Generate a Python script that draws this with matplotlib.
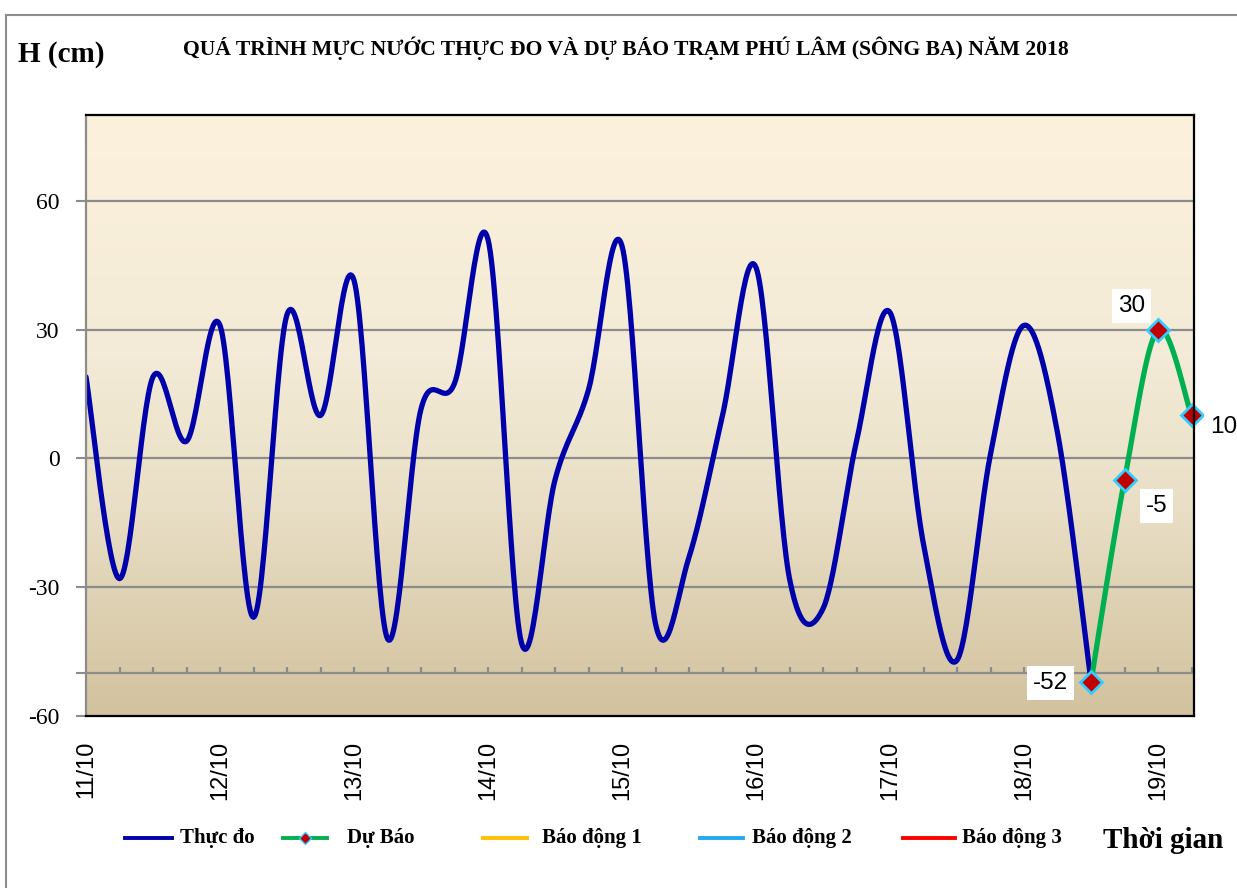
import numpy as np
import matplotlib
matplotlib.use("Agg")
import matplotlib.pyplot as plt
from matplotlib.lines import Line2D
from matplotlib.colors import LinearSegmentedColormap

# ---------------- data ----------------
tick_labels = ["11/10", "12/10", "13/10", "14/10", "15/10", "16/10", "17/10", "18/10", "19/10"]
observed = [19, -28, 19, 4, 31, -37, 33.5, 10, 41.5, -42, 11.5, 17.5, 51, -43, -5, 16, 49.5,
            -38.5, -23, 10, 44.5, -28, -35, 4, 34, -20, -47, 1, 31, 6, -52]
forecast = [-52, -5, 30, 10]
forecast_start = 30
forecast_labels = ["-52", "-5", "30", "10"]
title = "QUÁ TRÌNH MỰC NƯỚC THỰC ĐO VÀ DỰ BÁO TRẠM PHÚ LÂM (SÔNG BA) NĂM 2018"
legend_names = ["Thực đo", "Dự Báo", "Báo động 1", "Báo động 2", "Báo động 3"]

W, H = 1237, 888
fig = plt.figure(figsize=(W / 100, H / 100), dpi=100)
fig.patch.set_facecolor("white")

def fx(px):
    return px / W

def fy(py):
    return 1 - py / H

# outer border
fig.add_artist(Line2D([fx(6), fx(1237)], [fy(15), fy(15)], color="#8c8c8c", lw=1.5))
fig.add_artist(Line2D([fx(6), fx(6)], [fy(15), fy(888)], color="#8c8c8c", lw=1.5))

ax = fig.add_axes([fx(86), fy(716), fx(1194) - fx(86), fy(115) - fy(716)])
n_total = forecast_start + len(forecast)
xmax = (1194 - 86) / 33.5
ymin, ymax = -60, 80
ax.set_xlim(0, xmax)
ax.set_ylim(ymin, ymax)

# gradient background
cmap = LinearSegmentedColormap.from_list(
    "bg", [(0.0, "#D2C29E"), (0.35, "#E9DFC6"), (0.6, "#F3EBD7"), (1.0, "#FCF1DC")])
grad = np.linspace(0, 1, 256).reshape(-1, 1)
ax.imshow(grad, extent=[0, xmax, ymin, ymax], aspect="auto", origin="lower",
          cmap=cmap, zorder=0)

# gridlines
for g in [-30, 0, 30, 60]:
    ax.axhline(g, color="#8c8c8c", lw=1.6, zorder=1)
# category axis crossing at -50
ax.axhline(-50, color="#8c8c8c", lw=1.6, zorder=1)
ax.vlines(np.arange(1, n_total), -50, -48.6, color="#8c8c8c", lw=1.6, zorder=1)


def smooth(xs, ys, n=30):
    xs = np.asarray(xs, float)
    ys = np.asarray(ys, float)
    px = np.concatenate([[xs[0]], xs, [xs[-1]]])
    py = np.concatenate([[ys[0]], ys, [ys[-1]]])
    outx, outy = [], []
    t = np.linspace(0, 1, n)
    for i in range(1, len(px) - 2):
        p0 = np.array([px[i], py[i]])
        p3 = np.array([px[i + 1], py[i + 1]])
        c1 = p0 + (np.array([px[i + 1], py[i + 1]]) - np.array([px[i - 1], py[i - 1]])) / 6
        c2 = p3 - (np.array([px[i + 2], py[i + 2]]) - np.array([px[i], py[i]])) / 6
        b = ((1 - t) ** 3)[:, None] * p0 + (3 * (1 - t) ** 2 * t)[:, None] * c1 + \
            (3 * (1 - t) * t ** 2)[:, None] * c2 + (t ** 3)[:, None] * p3
        outx.extend(b[:, 0])
        outy.extend(b[:, 1])
    return np.array(outx), np.array(outy)


obs_x = np.arange(len(observed))
sx, sy = smooth(obs_x, observed)
ax.plot(sx, sy, color="#0000AA", lw=3.8, zorder=3, solid_capstyle="round")

fc_x = np.arange(forecast_start, forecast_start + len(forecast))
fsx, fsy = smooth(fc_x, forecast)
ax.plot(fsx, fsy, color="#00B050", lw=3.8, zorder=4, clip_on=False)
ax.plot(fc_x, forecast, ls="none", marker="D", ms=11, mfc="#C00000", mec="#33CCFF",
        mew=2, zorder=5, clip_on=False)

offsets = [(-29, -1), (23, -19), (-19, 17), (23, -8)]
for xv, yv, lab, off in zip(fc_x, forecast, forecast_labels, offsets):
    ax.annotate(lab, (xv, yv), xytext=off, textcoords="offset points",
                ha="center", va="center", fontsize=17.5, family="Liberation Sans",
                bbox=dict(boxstyle="square,pad=0.25", fc="white", ec="none"),
                zorder=6, annotation_clip=False)

# axes spines
for s in ["top", "right", "bottom"]:
    ax.spines[s].set_color("black")
    ax.spines[s].set_linewidth(1.6)
ax.spines["left"].set_color("#8c8c8c")
ax.spines["left"].set_linewidth(1.6)
for sp in ax.spines.values():
    sp.set_zorder(7)

ax.set_yticks([-60, -50, -30, 0, 30, 60])
ax.set_yticklabels(["-60", "", "-30", "0", "30", "60"], family="Liberation Serif", fontsize=17)
ax.tick_params(axis="y", direction="out", length=7, width=1.5, color="#8c8c8c", pad=12)

ax.set_xticks(np.arange(0, n_total, 4))
ax.set_xticklabels(tick_labels, rotation=90, family="Liberation Sans", fontsize=17)
ax.tick_params(axis="x", length=0, pad=18)

# titles
fig.text(fx(18), fy(55), "H (cm)", family="Liberation Serif", weight="bold",
         fontsize=21, ha="left", va="center")
t = fig.text(fx(626), fy(48), title, family="Liberation Serif", weight="bold",
             fontsize=13, ha="center", va="center")
fig.canvas.draw()
wpx = t.get_window_extent().width
t.set_fontsize(13 * 883 / wpx)

# legend (manual layout)
leg_items = [
    (125, 172, "#0000AA", False, 180),
    (283, 327, "#00B050", True, 347),
    (483, 527, "#FFC000", False, 542),
    (700, 743, "#22AAEE", False, 752),
    (903, 955, "#FF0000", False, 962),
]
ly = fy(838)
for (x0, x1, col, mk, tx), name in zip(leg_items, legend_names):
    fig.add_artist(Line2D([fx(x0), fx(x1)], [ly, ly], color=col, lw=2.8))
    if mk:
        fig.add_artist(Line2D([fx((x0 + x1) / 2)], [ly], marker="D", ms=6,
                              mfc="#C00000", mec="#33CCFF", mew=1, ls="none"))
    fig.text(fx(tx), ly, name, family="Liberation Serif", weight="bold",
             fontsize=15, ha="left", va="center")

fig.text(fx(1103), fy(840), "Thời gian", family="Liberation Serif", weight="bold",
         fontsize=21, ha="left", va="center")

fig.savefig("out.png", dpi=100, facecolor="white")
